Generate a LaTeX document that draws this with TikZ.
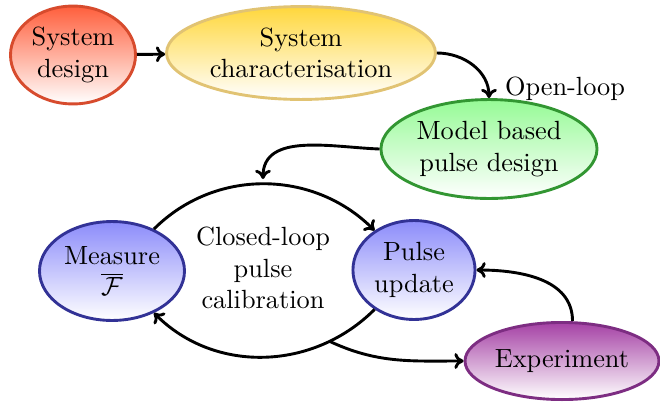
\documentclass[tikz,border=0pt]{standalone}
\usetikzlibrary{shapes.geometric,arrows.meta}
\definecolor{redtop}{RGB}{255,95,60}
\definecolor{redbd}{RGB}{215,75,45}
\definecolor{yeltop}{RGB}{255,215,60}
\definecolor{yelbd}{RGB}{225,195,115}
\definecolor{grntop}{RGB}{150,250,150}
\definecolor{grnbd}{RGB}{50,150,50}
\definecolor{blutop}{RGB}{140,140,250}
\definecolor{blubd}{RGB}{50,50,150}
\definecolor{purtop}{RGB}{165,65,165}
\definecolor{purbd}{RGB}{125,45,130}
\tikzset{
  blob/.style={ellipse, line width=1.1pt, align=center, inner sep=0pt, bottom color=white},
  conn/.style={line width=1.1pt, -{To[length=3.5pt,width=6pt]}},
  plain/.style={line width=1.1pt}
}
\begin{document}
\begin{tikzpicture}[x=0.38pt,y=-0.38pt]
\useasboundingbox (0,0) rectangle (660,404);
\node[blob, draw=redbd, top color=redtop, minimum width=47.5pt, minimum height=37.2pt] (sd) at (73,55) {System\\design};
\node[blob, draw=yelbd, top color=yeltop, minimum width=102.2pt, minimum height=35.3pt] (sc) at (301,53) {System\\characterisation};
\node[blob, draw=grnbd, top color=grntop, minimum width=82.1pt, minimum height=37.6pt] (mb) at (489,149) {Model based\\pulse design};
\node[blob, draw=blubd, top color=blutop, minimum width=55.1pt, minimum height=37.6pt] (ms) at (112,271) {Measure\\$\overline{\mathcal{F}}$};
\node[blob, draw=blubd, top color=blutop, minimum width=46.4pt, minimum height=37.6pt] (pu) at (414,270) {Pulse\\update};
\node[blob, draw=purbd, top color=purtop, minimum width=73.7pt, minimum height=29.3pt] (ex) at (562,361) {Experiment};
\node[align=center] (cl) at (263,268) {Closed-loop\\pulse\\calibration};
\node (ol) at (565,89) {Open-loop};
\coordinate (lt) at (263,179);
\draw[conn] (sd) -- (sc);
\draw[conn] (sc.east) to[out=0,in=90] (mb.north);
\draw[conn] (mb.west) to[out=178,in=90] (lt);
\draw[conn] (ms.45) to[out=45,in=135] (pu.135);
\draw[conn] (pu.-135) to[out=-135,in=-45] coordinate[pos=0.22] (br) (ms.-45);
\draw[conn] (br) to[out=-25,in=180] (ex.west);
\draw[conn] ([xshift=4pt]ex.north) to[out=90,in=0] (pu.east);
\end{tikzpicture}
\end{document}
